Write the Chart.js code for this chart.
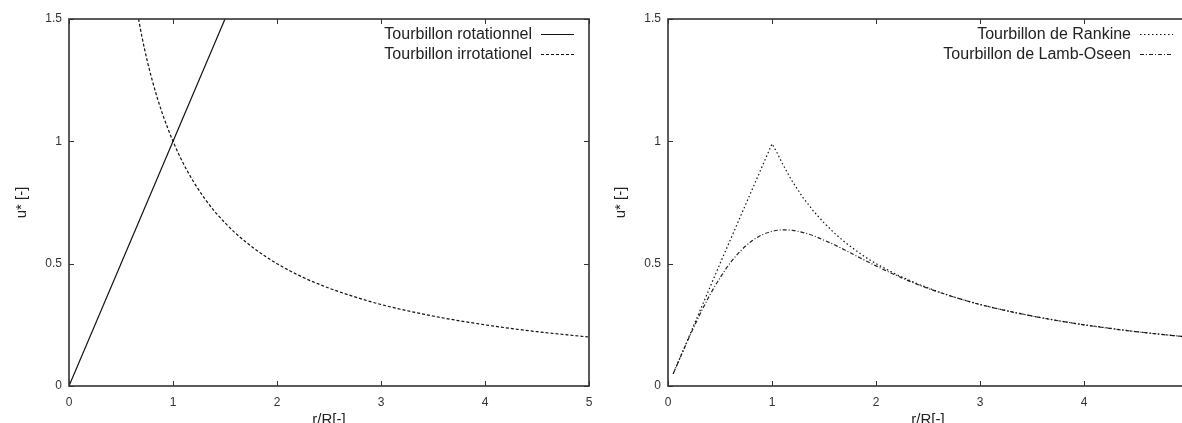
<!DOCTYPE html>
<html>
<head>
<meta charset="utf-8">
<title>Tourbillons</title>
<script src="https://cdn.jsdelivr.net/npm/chart.js@4/dist/chart.umd.min.js"></script>
<style>
html, body { margin: 0; padding: 0; background: #fff; overflow: hidden; width: 1182px; height: 423px; }
canvas { position: absolute; top: 0; }
#chart-left { left: 0; }
#chart-right { left: 599px; }
</style>
</head>
<body>
<canvas id="chart-left" width="600" height="440"></canvas>
<canvas id="chart-right" width="600" height="440"></canvas>
<script>
const xTicks = [0, 1, 2, 3, 4, 5]
const yTicks = [0, 0.5, 1, 1.5]

// left panel
const rotR = [0, 1.5]
const rotU = [0, 1.5]
const irrR = [0.66, 0.7, 0.75, 0.8, 0.85, 0.9, 0.95, 1.0, 1.1, 1.2, 1.3, 1.4, 1.5, 1.6, 1.8, 2.0, 2.25, 2.5, 2.75, 3.0, 3.5, 4.0, 4.5, 5.0]
const irrU = [1.52, 1.43, 1.333, 1.25, 1.176, 1.111, 1.053, 1.0, 0.909, 0.833, 0.769, 0.714, 0.667, 0.625, 0.556, 0.5, 0.444, 0.4, 0.364, 0.333, 0.286, 0.25, 0.222, 0.2]

// right panel
const rankR = [0.05, 0.5, 1.0, 1.05, 1.1, 1.15, 1.2, 1.3, 1.4, 1.5, 1.6, 1.7, 1.8, 1.9, 2.0, 2.2, 2.4, 2.6, 2.8, 3.0, 3.25, 3.5, 3.75, 4.0, 4.5, 5.0]
const rankU = [0.05, 0.5, 0.99, 0.952, 0.909, 0.870, 0.833, 0.769, 0.714, 0.667, 0.625, 0.588, 0.556, 0.526, 0.5, 0.455, 0.417, 0.385, 0.357, 0.333, 0.308, 0.286, 0.267, 0.25, 0.222, 0.2]
const lambR = [0.05, 0.1, 0.2, 0.3, 0.4, 0.5, 0.6, 0.7, 0.8, 0.9, 1.0, 1.1, 1.2, 1.3, 1.4, 1.5, 1.6, 1.7, 1.8, 1.9, 2.0, 2.2, 2.4, 2.6, 2.8, 3.0, 3.5, 4.0, 4.5, 5.0]
const lambU = [0.05, 0.0995, 0.196, 0.287, 0.370, 0.442, 0.504, 0.553, 0.591, 0.617, 0.632, 0.638, 0.636, 0.627, 0.614, 0.596, 0.577, 0.556, 0.534, 0.512, 0.491, 0.451, 0.415, 0.384, 0.357, 0.333, 0.286, 0.25, 0.222, 0.2]

const fontFamily = '"Liberation Sans", Arial, Helvetica, sans-serif'

function toPoints(xs, ys) {
    return xs.map((x, i) => ({x: x, y: ys[i]}))
}

function strokeLine(ctx, x0, y0, x1, y1) {
    ctx.beginPath()
    ctx.moveTo(x0, y0)
    ctx.lineTo(x1, y1)
    ctx.stroke()
}

// gnuplot-like box: border, inward mirrored ticks and a legend in the top right corner
const framePlugin = {
    id: 'gnuplotFrame',
    afterDatasetsDraw(chart) {
        const {ctx, chartArea: area, scales} = chart
        ctx.save()
        ctx.strokeStyle = '#333'
        ctx.lineWidth = 1
        for (const tick of scales.x.ticks) {
            const px = Math.round(scales.x.getPixelForValue(tick.value)) + 0.5
            strokeLine(ctx, px, area.bottom, px, area.bottom - 5)
            strokeLine(ctx, px, area.top, px, area.top + 5)
        }
        for (const tick of scales.y.ticks) {
            const py = Math.round(scales.y.getPixelForValue(tick.value)) + 0.5
            strokeLine(ctx, area.left, py, area.left + 5, py)
            strokeLine(ctx, area.right, py, area.right - 5, py)
        }
        ctx.lineWidth = 1.6
        ctx.strokeRect(area.left, area.top, area.right - area.left, area.bottom - area.top)

        ctx.font = '16px ' + fontFamily
        ctx.textAlign = 'right'
        ctx.textBaseline = 'middle'
        chart.data.datasets.forEach((dataset, i) => {
            const y = Math.round(area.top + 14.5 + i * 20) + 0.5
            const x1 = area.right - 15
            const x0 = x1 - 33
            ctx.fillStyle = '#222'
            ctx.fillText(dataset.label, x0 - 9, y)
            ctx.setLineDash(dataset.borderDash || [])
            ctx.lineWidth = dataset.borderWidth
            ctx.strokeStyle = dataset.borderColor
            strokeLine(ctx, x0, y, x1, y)
            ctx.setLineDash([])
        })
        ctx.restore()
    }
}

function makeOptions() {
    return {
        responsive: false,
        animation: false,
        layout: {padding: {top: 19, right: 11, left: 0, bottom: 0}},
        plugins: {legend: {display: false}, tooltip: {enabled: false}},
        elements: {point: {radius: 0}},
        scales: {
            x: {
                type: 'linear', min: 0, max: 5,
                afterFit: (scale) => {
                    scale.height = 54
                    scale.paddingLeft = 0
                    scale.paddingRight = 0
                },
                afterBuildTicks: (scale) => { scale.ticks = xTicks.map(v => ({value: v})) },
                grid: {display: false, drawTicks: false},
                border: {display: false},
                ticks: {padding: 9, color: '#333', autoSkip: false, maxRotation: 0, font: {size: 12, family: fontFamily},
                        callback: (value) => String(value)},
                title: {display: true, text: 'r/R[-]', color: '#222', padding: {top: 0, bottom: 11}, font: {size: 15, family: fontFamily}}
            },
            y: {
                type: 'linear', min: 0, max: 1.5,
                afterFit: (scale) => { scale.width = 69 },
                afterBuildTicks: (scale) => { scale.ticks = yTicks.map(v => ({value: v})) },
                grid: {display: false, drawTicks: false},
                border: {display: false},
                ticks: {padding: 7, color: '#333', autoSkip: false, font: {size: 12, family: fontFamily},
                        callback: (value) => String(value)},
                title: {display: true, text: 'u* [-]', color: '#222', padding: {top: 13, bottom: 0}, font: {size: 15, family: fontFamily}}
            }
        }
    }
}

new Chart(document.getElementById('chart-left'), {
    type: 'line',
    data: {
        datasets: [{
            label: 'Tourbillon rotationnel',
            data: toPoints(rotR, rotU),
            borderColor: '#111',
            borderWidth: 1.2,
            tension: 0
        },
        {
            label: 'Tourbillon irrotationel',
            data: toPoints(irrR, irrU),
            borderColor: '#111',
            borderWidth: 1.2,
            borderDash: [3, 2],
            cubicInterpolationMode: 'monotone'
        }]
    },
    options: makeOptions(),
    plugins: [framePlugin]
})

new Chart(document.getElementById('chart-right'), {
    type: 'line',
    data: {
        datasets: [{
            label: 'Tourbillon de Rankine',
            data: toPoints(rankR, rankU),
            borderColor: '#111',
            borderWidth: 1.2,
            borderDash: [1.5, 2.5],
            tension: 0
        },
        {
            label: 'Tourbillon de Lamb-Oseen',
            data: toPoints(lambR, lambU),
            borderColor: '#222',
            borderWidth: 1.2,
            borderDash: [4, 2, 1, 2],
            cubicInterpolationMode: 'monotone'
        }]
    },
    options: makeOptions(),
    plugins: [framePlugin]
})
</script>
</body>
</html>
